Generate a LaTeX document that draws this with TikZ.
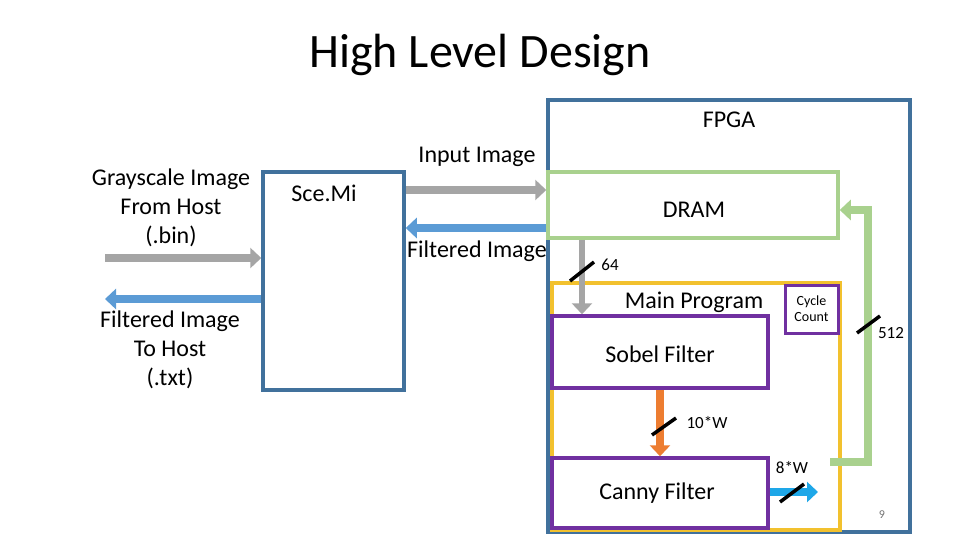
\documentclass[tikz,border=0pt]{standalone}
\usepackage{fontspec}
\setmainfont{Carlito}
\usetikzlibrary{arrows.meta}
\definecolor{fblue}{HTML}{41719C}
\definecolor{lgreen}{HTML}{A9D18E}
\definecolor{ggreen}{HTML}{70AD47}
\definecolor{gold}{HTML}{F2C12E}
\definecolor{purp}{HTML}{7030A0}
\definecolor{gry}{HTML}{A5A5A5}
\definecolor{ablue}{HTML}{5B9BD5}
\definecolor{sky}{HTML}{1EA7E8}
\definecolor{orng}{HTML}{ED7D31}
\begin{document}
\begin{tikzpicture}[x=1pt,y=-1pt,
  box/.style={draw,line width=3.5pt,inner sep=0},
  fat/.style={line width=8pt,-{Triangle[length=11pt,width=20pt]}},
  slash/.style={line width=3.5pt,black},
  lbl/.style={font=\fontsize{24}{29}\selectfont,align=center},
  sml/.style={font=\fontsize{17}{20}\selectfont}]
\useasboundingbox (0,0) rectangle (960,540);
\fill[white] (0,0) rectangle (960,540);
\node[font=\fontsize{48}{54}\selectfont] (title) at (480,55) {High Level Design};
% boxes
\draw[box,fblue] (548,100) rectangle (910,532);
\node[box,draw=fblue,minimum width=141pt,minimum height=218pt] (scemi) at (333.5,281) {};
\node[box,draw=lgreen,minimum width=290pt,minimum height=66pt] (dram) at (693,205) {};
\draw[box,gold] (552,283) rectangle (840,530);
\node[box,draw=purp,minimum width=53pt,minimum height=48pt,line width=3pt] (cyc) at (811.5,309) {};
\node[box,draw=purp,minimum width=216pt,minimum height=72pt] (sobel) at (660,352) {};
\node[box,draw=purp,minimum width=216pt,minimum height=70pt] (canny) at (660,493) {};
% texts
\node[lbl] (fpga) at (729,120) {FPGA};
\node[lbl] at (324,193) {Sce.Mi};
\node[lbl] at (694,210) {DRAM};
\node[lbl] at (694,302) {Main Program};
\node[font=\fontsize{14}{16}\selectfont,align=center] at (811.5,309) {Cycle\\Count};
\node[lbl] at (660,354) {Sobel Filter};
\node[lbl] at (657,493) {Canny Filter};
\node[lbl] at (477,157) {Input Image};
\node[lbl] at (477,251) {Filtered Image};
\node[lbl] at (171,208) {Grayscale Image\\From Host\\(.bin)};
\node[lbl] at (170,350) {Filtered Image\\To Host\\(.txt)};
\node[sml] at (610,265) {64};
\node[sml] at (707,423) {10*W};
\node[sml] at (792,468) {8*W};
\node[sml] at (891,333) {512};
\node[font=\fontsize{12}{14}\selectfont,gry!70!black] at (882,515) {9};
% coordinates
\coordinate (hin) at (105,258); \coordinate (hout) at (105,299);
\coordinate (gout) at (830,462); \coordinate (gc1) at (868,462);
\coordinate (gc2) at (868,210); \coordinate (bo) at (818,492);
% arrows
\draw[fat,gry] (hin) -- (hin -| scemi.west);
\draw[fat,ablue] (scemi.west |- hout) -- (hout);
\draw[fat,gry] (scemi.east |- 0,190) -- (dram.west |- 0,190);
\draw[fat,ablue] (dram.west |- 0,228) -- (scemi.east |- 0,228);
\draw[fat,gry,line width=6pt] (dram.south -| 582,0) -- (sobel.north -| 582,0);
\draw[fat,orng] (sobel.south) -- (canny.north);
\draw[fat,sky] (canny.east |- bo) -- (bo);
\draw[line width=8pt,lgreen,-{Triangle[length=11pt,width=20pt]}] (gout) -- (gc1) -- (gc2) -- (dram.east |- gc2);
% slashes
\draw[slash] (570,281) -- (594,262);
\draw[slash] (652,435) -- (676,418);
\draw[slash] (780,502) -- (804,484);
\draw[slash] (857,333) -- (880,316);
\end{tikzpicture}
\end{document}
